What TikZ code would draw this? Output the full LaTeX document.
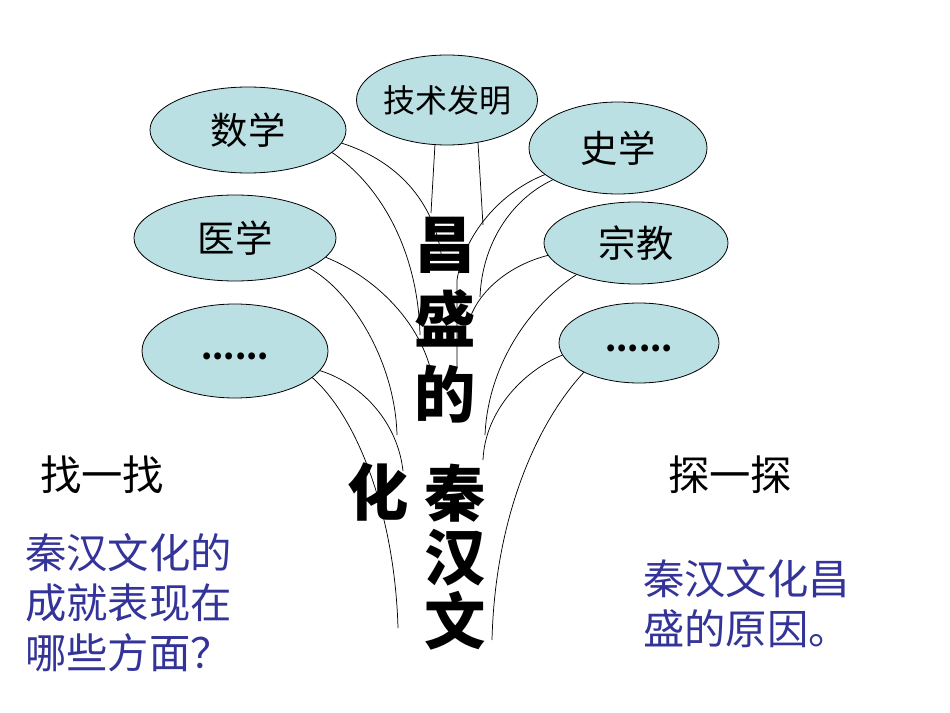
\documentclass[tikz,border=0pt]{standalone}
\usepackage{fontspec}
\setmainfont{Noto Sans CJK SC}
\usetikzlibrary{shapes.geometric}
\definecolor{bubblefill}{RGB}{187,224,227}
\definecolor{askblue}{RGB}{51,51,153}

\begin{document}
\begin{tikzpicture}[x=0.75pt,y=0.75pt,yscale=-1,xscale=1,
  bubble/.style={ellipse,draw,fill=bubblefill,inner sep=0pt,line width=0.6pt,font=\fontsize{28}{30}\selectfont},
  dots/.style={font=\fontsize{24}{26}\selectfont\bfseries,text height=12pt,text depth=0pt},
  root/.style={line width=0.55pt},
  trunk/.style={inner sep=0pt,align=center},
  heading/.style={inner sep=0pt,font=\fontsize{31}{34}\selectfont},
  question/.style={inner sep=0pt,align=left,text=askblue,font=\fontsize{31}{37.5}\selectfont}]
\useasboundingbox (0,0) rectangle (950,713);

%Ellipses, left side
\node[bubble,minimum width=147pt,minimum height=64.5pt] (shuxue) at (248,130) {数学};
\node[bubble,minimum width=151.5pt,minimum height=64.5pt] (yixue) at (235,238) {医学};
\node[bubble,dots,minimum width=139.5pt,minimum height=70.5pt] (moreL) at (235,351) {......};
%Ellipses, top and right side
\node[bubble,minimum width=127.5pt,minimum height=67.5pt,font=\fontsize{24}{26}\selectfont] (jishu) at (447,100) {技术发明};
\node[bubble,minimum width=133.5pt,minimum height=69pt] (shixue) at (618,148) {史学};
\node[bubble,minimum width=138pt,minimum height=61.5pt] (zongjiao) at (636,243) {宗教};
\node[bubble,dots,minimum width=120pt,minimum height=60pt] (moreR) at (639,343) {......};

%Root ends along the trunk
\coordinate (tShA) at (442,260);
\coordinate (tShB) at (420,335);
\coordinate (tYiA) at (430,367);
\coordinate (tYiB) at (397,435);
\coordinate (tMlA) at (403,471);
\coordinate (tMlB) at (398,628);
\coordinate (tJsA) at (431,213);
\coordinate (tJsB) at (483,225);
\coordinate (tSxA) at (457,367);
\coordinate (tSxB) at (480,297);
\coordinate (tZjA) at (470,318);
\coordinate (tZjB) at (485,435);
\coordinate (tMrA) at (483,460);
\coordinate (tMrB) at (492,640);

%Roots, left
\draw[root] (shuxue.-8) .. controls (395,160) and (435,200) .. (tShA);
\draw[root] (shuxue.-15) .. controls (380,185) and (418,250) .. (tShB);
\draw[root] (yixue.-12) .. controls (370,275) and (415,315) .. (tYiA);
\draw[root] (yixue.-22) .. controls (350,290) and (395,360) .. (tYiB);
\draw[root] (moreL.-13) .. controls (365,385) and (398,425) .. (tMlA);
\draw[root] (moreL.-19) .. controls (360,420) and (395,520) .. (tMlB);
%Roots, top
\draw[root] (jishu.-105) -- (tJsA);
\draw[root] (jishu.-54) -- (tJsB);
%Roots, right
\draw[root] (shixue.-160) .. controls (505,190) and (465,230) .. (457,280) -- (tSxA);
\draw[root] (shixue.-154) .. controls (510,200) and (482,245) .. (tSxB);
\draw[root] (zongjiao.-172) .. controls (510,265) and (480,290) .. (tZjA);
\draw[root] (zongjiao.-152) .. controls (530,305) and (488,365) .. (tZjB);
\draw[root] (moreR.-171) .. controls (525,370) and (485,410) .. (tMrA);
\draw[root] (moreR.-152) .. controls (535,425) and (495,520) .. (tMrB);

% Trunk text
\node[trunk,font=\fontsize{46}{56.25}\selectfont\bfseries] (changsheng) at (445,320) {昌\\盛\\的};
\node[trunk,font=\fontsize{46}{48}\selectfont\bfseries] (qinhanwen) at (455,557) {秦\\汉\\文};
\node[trunk,font=\fontsize{46}{48}\selectfont\bfseries] (hua) at (378,492) {化};

% Text Node
\node[heading] (zhao) at (102,475) {找一找};
\node[heading] (tan) at (730,475) {探一探};
\node[question,anchor=west] (askL) at (25,603) {秦汉文化的\\成就表现在\\哪些方面？};
\node[question,anchor=west] (askR) at (643,604) {秦汉文化昌\\盛的原因。};

\end{tikzpicture}
\end{document}
